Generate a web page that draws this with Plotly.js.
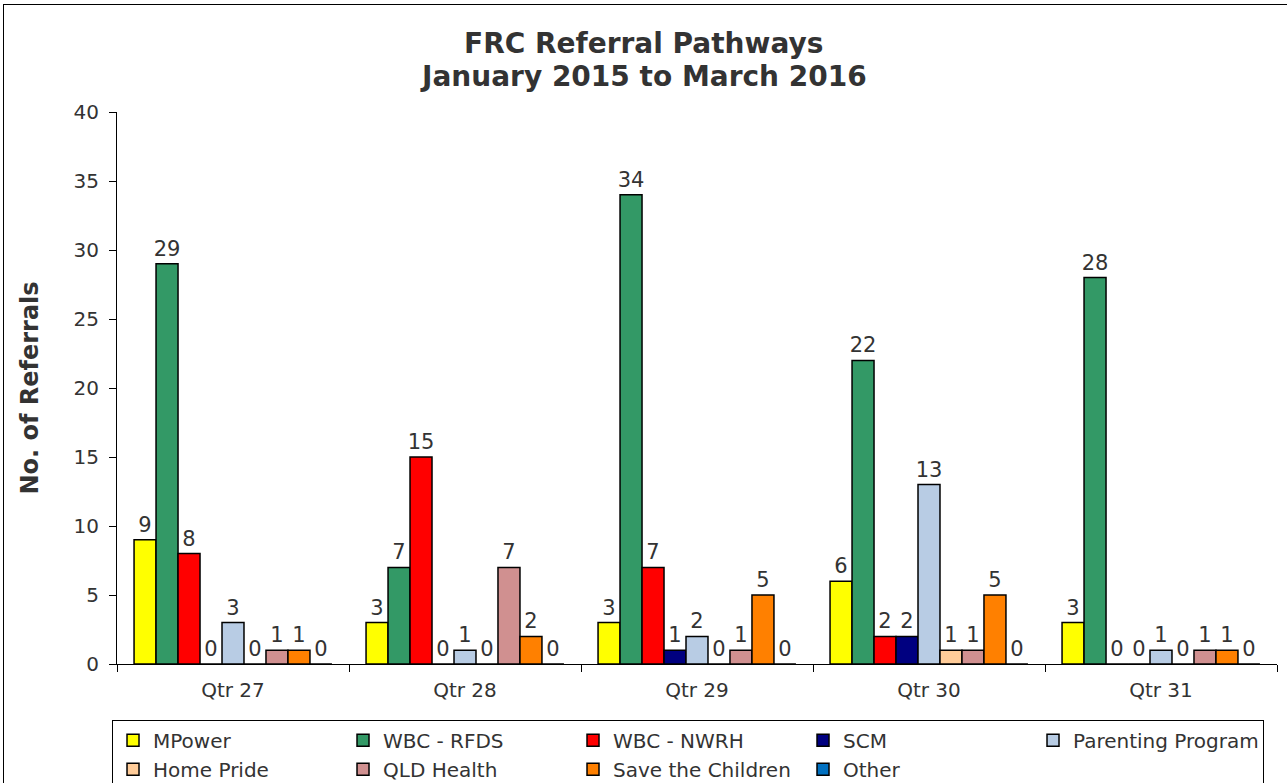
<!DOCTYPE html>
<html><head><meta charset="utf-8">
<script src="https://cdn.plot.ly/plotly-3.0.1.min.js"></script>
<style>
body{margin:0;padding:0;background:#fff;}
#wrap{position:relative;width:1287px;height:783px;overflow:hidden;}
#chart{width:1287px;height:783px;}
#frame{position:absolute;left:3px;top:4px;width:1300px;height:800px;border:1.5px solid #000;pointer-events:none;}
</style></head>
<body>
<div id="wrap"><div id="chart"></div><div id="frame"></div></div>
<script>
const categories = ['Qtr 27','Qtr 28','Qtr 29','Qtr 30','Qtr 31'];
const mpower    = [9, 3, 3, 6, 3];
const rfds      = [29, 7, 34, 22, 28];
const nwrh      = [8, 15, 7, 2, 0];
const scm       = [0, 0, 1, 2, 0];
const parenting = [3, 1, 2, 13, 1];
const homePride = [0, 0, 0, 1, 0];
const qldHealth = [1, 7, 1, 1, 1];
const saveChildren = [1, 2, 5, 5, 1];
const other     = [0, 0, 0, 0, 0];

const seriesNames = ['MPower','WBC - RFDS','WBC - NWRH','SCM','Parenting Program','Home Pride','QLD Health','Save the Children','Other'];
const seriesValues = [mpower, rfds, nwrh, scm, parenting, homePride, qldHealth, saveChildren, other];
const seriesColors = ['#FFFF00','#339966','#FF0000','#000080','#B8CCE4','#FFCC99','#D09090','#FF8000','#0070C0'];
const titleLines = ['FRC Referral Pathways','January 2015 to March 2016'];

const FONT = 'DejaVu Sans, Verdana, sans-serif';
const traces = seriesNames.map((n,i)=>({
  type:'bar', name:n, x:categories, y:seriesValues[i],
  marker:{color:seriesColors[i], line:{color:'#000', width:1.5}},
  text:seriesValues[i].map(String), textposition:'outside', cliponaxis:false, constraintext:'none',
  textfont:{family:FONT, size:21, color:'#333'}
}));

const layout = {
  width:1287, height:783,
  margin:{l:117, r:10, t:112, b:119, autoexpand:false},
  paper_bgcolor:'#fff', plot_bgcolor:'#fff',
  font:{family:FONT, color:'#333'},
  barmode:'group', bargap:0.147, bargroupgap:0,
  showlegend:true,
  annotations:[
    {text:'<b>'+titleLines[0]+'</b>', xref:'paper', yref:'paper', x:0.454, y:1.125, xanchor:'center', yanchor:'middle', showarrow:false, font:{family:FONT, size:28, color:'#333'}},
    {text:'<b>'+titleLines[1]+'</b>', xref:'paper', yref:'paper', x:0.454, y:1.065, xanchor:'center', yanchor:'middle', showarrow:false, font:{family:FONT, size:28, color:'#333'}}
  ],
  xaxis:{type:'category', showline:true, linecolor:'#000', linewidth:1, ticks:'outside', tickson:'boundaries', ticklen:7, tickcolor:'#000',
         ticklabelstandoff:8, tickfont:{family:FONT, size:20, color:'#333'}, showgrid:false, zeroline:false},
  yaxis:{range:[0,40], dtick:5, showline:true, linecolor:'#000', linewidth:1, ticks:'outside', ticklen:7, tickcolor:'#000',
         ticklabelstandoff:6, tickfont:{family:FONT, size:20, color:'#333'}, showgrid:false, zeroline:false,
         title:{text:'<b>No. of Referrals</b>', font:{family:FONT, size:24, color:'#333'}, standoff:28}},
  legend:{orientation:'h', x:-0.0043, xanchor:'left', y:-0.101, yanchor:'top', bordercolor:'#000', borderwidth:1,
          font:{family:FONT, size:20, color:'#333'}, entrywidth:185, entrywidthmode:'pixels', traceorder:'normal', itemwidth:30, tracegroupgap:0}
};
Plotly.newPlot('chart', traces, layout, {displayModeBar:false, staticPlot:true});
</script>
</body></html>
